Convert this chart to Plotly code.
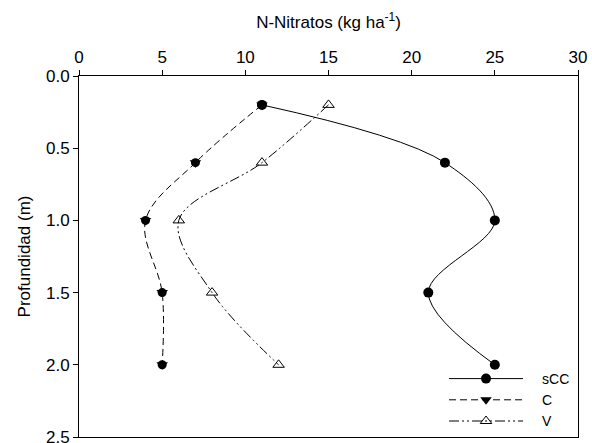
import plotly.graph_objects as go

depth = [0.2, 0.6, 1.0, 1.5, 2.0]
sCC = [11, 22, 25, 21, 25]
C = [11, 7, 4, 5, 5]
V = [15, 11, 6, 8, 12]
names = ["sCC", "C", "V"]

pad = "\u2003"

fig = go.Figure()
fig.add_trace(go.Scatter(x=sCC, y=depth, name=pad + names[0], mode="lines+markers",
                         line=dict(color="black", width=1, shape="spline"),
                         marker=dict(symbol="circle", size=10, color="black")))
fig.add_trace(go.Scatter(x=C, y=depth, name=pad + names[1], mode="lines+markers",
                         line=dict(color="black", width=1, shape="spline", dash="7px,4px"),
                         marker=dict(symbol="triangle-down", size=10, color="black")))
fig.add_trace(go.Scatter(x=C, y=depth, mode="markers", showlegend=False, hoverinfo="skip",
                         marker=dict(symbol="circle", size=9, color="black")))
fig.add_trace(go.Scatter(x=V, y=depth, name=pad + names[2], mode="lines+markers",
                         line=dict(color="black", width=1, shape="spline", dash="10px,3px,2px,3px,2px,3px"),
                         marker=dict(symbol="triangle-up-open", size=10, color="black", line=dict(width=1))))

fig.update_layout(
    width=592, height=443,
    margin=dict(l=79, r=14, t=76, b=6),
    paper_bgcolor="white", plot_bgcolor="white",
    font=dict(family="Liberation Sans, Arial", size=17, color="black"),
    showlegend=True,
    legend=dict(x=0.7315, y=0.0, xanchor="left", yanchor="bottom",
                bgcolor="rgba(0,0,0,0)", itemwidth=74, tracegroupgap=0,
                font=dict(size=14)),
    xaxis=dict(side="top", range=[0, 30], tickvals=[0, 5, 10, 15, 20, 25, 30],
               ticks="outside", ticklen=5, tickcolor="black", showgrid=False, zeroline=False,
               showline=True, linecolor="black", linewidth=1, mirror=True, automargin=False,
               ticklabeloverflow="allow",
               title=dict(text="N-Nitratos (kg ha<sup>-1</sup>)", standoff=15, font=dict(size=17))),
    yaxis=dict(range=[2.5, 0], tickvals=[0, 0.5, 1.0, 1.5, 2.0, 2.5], tickformat=".1f",
               ticks="outside", ticklen=5, tickcolor="black", showgrid=False, zeroline=False,
               showline=True, linecolor="black", linewidth=1, mirror=True, automargin=False,
               ticklabeloverflow="allow",
               title=dict(text="Profundidad (m)", standoff=11, font=dict(size=17))),
)
fig.write_html("out.html", config={"displayModeBar": False},
               post_script="document.body.style.margin='0';document.body.style.overflow='hidden';")
